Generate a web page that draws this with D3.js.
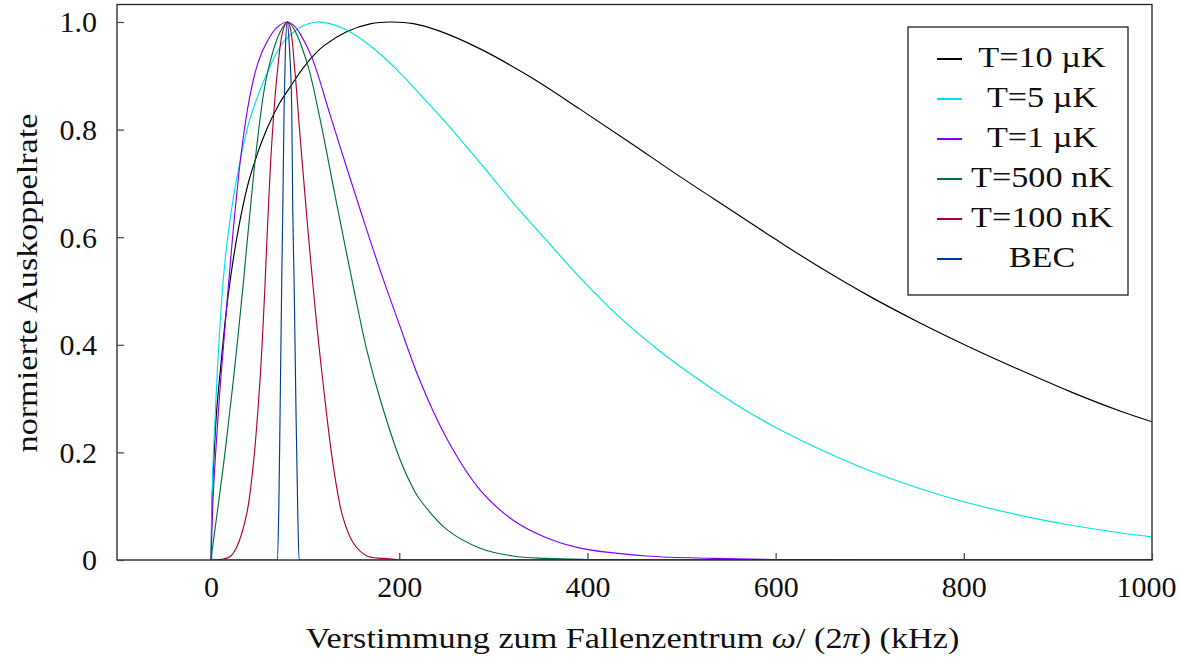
<!DOCTYPE html>
<html>
<head>
<meta charset="utf-8">
<script src="https://cdn.jsdelivr.net/npm/d3@7"></script>
<style>
  html, body { margin: 0; padding: 0; background: #fff; }
  svg { display: block; }
  text { font-family: "Liberation Serif", "Times New Roman", serif; fill: #111; }
</style>
</head>
<body>
<svg id="chart" width="1179" height="661"></svg>
<script>
// ---------- data ----------
const seriesNames = ["T=10 µK", "T=5 µK", "T=1 µK", "T=500 nK", "T=100 nK", "BEC"];
const seriesColors = ["#000000", "#00e3e3", "#8000ff", "#00703c", "#b0002e", "#003c96"];

const x10uK = [0, 1, 3, 6, 10, 18, 29, 41, 59, 73, 84, 96, 108, 120, 144, 170, 190, 215, 243, 286, 339, 392, 445, 498, 552, 600, 647, 700, 753, 807, 860, 913, 966, 1000];
const y10uK = [0, 0.11, 0.19, 0.28, 0.355, 0.49, 0.615, 0.71, 0.8, 0.85, 0.879, 0.91, 0.936, 0.956, 0.982, 0.997, 1.0, 0.997, 0.983, 0.950, 0.898, 0.838, 0.776, 0.713, 0.651, 0.596, 0.544, 0.490, 0.441, 0.395, 0.353, 0.313, 0.277, 0.257];

const x5uK = [0, 1, 2.5, 6, 12, 18, 27.6, 41, 59, 73, 84, 97, 112, 130, 144, 162, 180, 201, 225, 250, 286, 321, 357, 392, 435, 477, 520, 557, 594, 647, 700, 753, 807, 860, 913, 960, 1000];
const y5uK = [0, 0.11, 0.2, 0.33, 0.5, 0.605, 0.712, 0.818, 0.903, 0.953, 0.976, 0.992, 1.0, 0.995, 0.985, 0.965, 0.94, 0.905, 0.86, 0.812, 0.738, 0.664, 0.593, 0.525, 0.45, 0.388, 0.333, 0.29, 0.252, 0.206, 0.166, 0.133, 0.105, 0.083, 0.065, 0.052, 0.043];

const x1uK = [0, 2, 4.5, 10, 17, 25, 33, 41, 50, 59, 70, 81, 87, 94.6, 108, 126, 144, 162, 180, 199, 222, 251, 286, 321, 357, 392, 463, 534, 600, 700, 1000];
const y1uK = [0, 0.11, 0.19, 0.33, 0.48, 0.64, 0.77, 0.86, 0.925, 0.962, 0.99, 1.0, 0.995, 0.978, 0.93, 0.83, 0.73, 0.632, 0.537, 0.443, 0.333, 0.224, 0.13, 0.074, 0.041, 0.022, 0.0074, 0.003, 0.001, 0, 0];

const x500nK = [0, 0.7, 12.9, 23.7, 34, 41, 48.6, 59, 73, 81, 87, 102, 116, 130, 144, 155, 165.5, 180, 201, 215, 222, 251, 286, 321, 357, 400, 450, 1000];
const y500nK = [0, 0.012, 0.173, 0.335, 0.51, 0.64, 0.77, 0.898, 0.98, 1.0, 0.99, 0.924, 0.818, 0.693, 0.570, 0.475, 0.39, 0.297, 0.186, 0.132, 0.112, 0.056, 0.022, 0.0074, 0.003, 0.001, 0, 0];

const x100nK = [0, 10, 20, 27.5, 38, 45, 52, 57, 60.5, 64.5, 70, 76.5, 81, 84, 89, 94.6, 102, 111, 119, 130, 140, 151, 165.5, 183, 200, 220, 1000];
const y100nK = [0, 0.001, 0.006, 0.025, 0.087, 0.18, 0.335, 0.5, 0.64, 0.775, 0.9, 0.985, 1.0, 0.99, 0.91, 0.787, 0.632, 0.46, 0.329, 0.173, 0.080, 0.032, 0.0074, 0.003, 0.0005, 0, 0];

const xBEC = [0, 70.5, 72, 73.3, 75.1, 76.2, 77.6, 79, 81, 83, 85.7, 86.8, 88.2, 90.3, 92, 93.5, 1000];
const yBEC = [0, 0, 0.1, 0.27, 0.52, 0.65, 0.84, 0.95, 1.0, 0.96, 0.84, 0.65, 0.52, 0.27, 0.1, 0, 0];

const seriesX = [x10uK, x5uK, x1uK, x500nK, x100nK, xBEC];
const seriesY = [y10uK, y5uK, y1uK, y500nK, y100nK, yBEC];

const xTicks = [0, 200, 400, 600, 800, 1000];
const yTicks = [0, 0.2, 0.4, 0.6, 0.8, 1.0];
const yTickLabels = ["0", "0.2", "0.4", "0.6", "0.8", "1.0"];

// ---------- layout ----------
const svg = d3.select("#chart");
const pL = 117, pR = 1152, pT = 4.5, pB = 560;
const x = d3.scaleLinear().domain([-100, 1000]).range([pL, pR]);
const y = d3.scaleLinear().domain([0, 1.0325]).range([pB, pT]);
const FS = 30;
const WIDEN = 1.14; // Computer-Modern-like horizontal width

// clip
svg.append("clipPath").attr("id", "clip")
  .append("rect").attr("x", pL).attr("y", pT).attr("width", pR - pL).attr("height", pB - pT);

// curves
const smoothLine = d3.line().x(d => x(d[0])).y(d => y(d[1])).curve(d3.curveCatmullRom.alpha(0.5));
const monoLine = d3.line().x(d => x(d[0])).y(d => y(d[1])).curve(d3.curveMonotoneX);
const g = svg.append("g").attr("clip-path", "url(#clip)");
seriesX.forEach((xs, i) => {
  const pts = xs.map((v, j) => [v, seriesY[i][j]]);
  g.append("path").datum(pts)
    .attr("d", i === 5 ? monoLine : smoothLine)
    .attr("fill", "none")
    .attr("stroke", seriesColors[i])
    .attr("stroke-width", 1.15);
});

// frame
svg.append("rect").attr("x", pL).attr("y", pT).attr("width", pR - pL).attr("height", pB - pT)
  .attr("fill", "none").attr("stroke", "#222").attr("stroke-width", 1.3);

// x axis (ticks inward)
const xAxis = d3.axisBottom(x).tickValues(xTicks).tickSize(-7).tickPadding(0).tickFormat(d3.format("d"));
const gx = svg.append("g").attr("transform", `translate(0,${pB})`).call(xAxis);
gx.select(".domain").remove();
gx.selectAll(".tick line").attr("stroke", "#444").attr("stroke-width", 1.2);
gx.selectAll(".tick text").attr("font-size", FS).attr("font-family", "Liberation Serif, serif")
  .attr("fill", "#111").attr("dy", 0).attr("y", 37)
  .attr("x", d => d === 1000 ? -6 : 0);

// y axis (ticks inward)
const yAxis = d3.axisLeft(y).tickValues(yTicks).tickSize(-7).tickPadding(0)
  .tickFormat((d, i) => yTickLabels[i]);
const gy = svg.append("g").attr("transform", `translate(${pL},0)`).call(yAxis);
gy.select(".domain").remove();
gy.selectAll(".tick line").attr("stroke", "#444").attr("stroke-width", 1.2);
gy.selectAll(".tick text").attr("font-size", FS).attr("font-family", "Liberation Serif, serif")
  .attr("fill", "#111").attr("x", -20).attr("dy", "0.33em");

// axis labels
const xl = svg.append("g").attr("transform", `translate(${(pL + pR) / 2 - 2},648) scale(${WIDEN},1)`)
  .append("text").attr("x", 0).attr("y", 0).attr("text-anchor", "middle").attr("font-size", FS);
xl.append("tspan").text("Verstimmung zum Fallenzentrum ");
xl.append("tspan").attr("font-style", "italic").text("ω");
xl.append("tspan").text("/ (2");
xl.append("tspan").attr("font-style", "italic").text("π");
xl.append("tspan").text(") (kHz)");

svg.append("g").attr("transform", `translate(37,283) rotate(-90) scale(${WIDEN},1)`)
  .append("text").attr("text-anchor", "middle").attr("font-size", FS).text("normierte Auskoppelrate");

// legend
const lg = svg.append("g");
lg.append("rect").attr("x", 908).attr("y", 27).attr("width", 220).attr("height", 268)
  .attr("fill", "#fff").attr("stroke", "#222").attr("stroke-width", 1.3);
seriesNames.forEach((name, i) => {
  const ry = 59 + i * 40;
  lg.append("line").attr("x1", 937).attr("x2", 962).attr("y1", ry).attr("y2", ry)
    .attr("stroke", seriesColors[i]).attr("stroke-width", 2);
  lg.append("g").attr("transform", `translate(1042,${ry + 8}) scale(${WIDEN},1)`)
    .append("text").attr("text-anchor", "middle").attr("font-size", FS).text(name);
});
</script>
</body>
</html>
